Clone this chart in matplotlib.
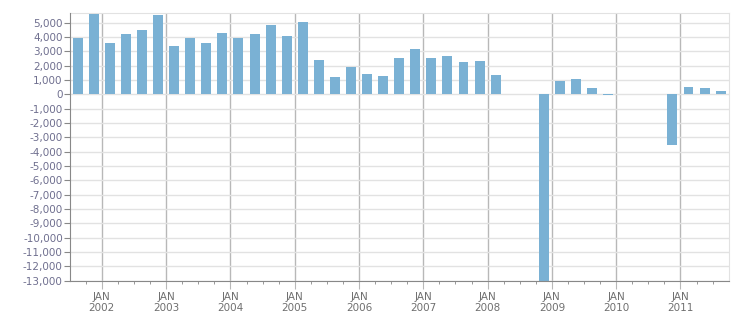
import numpy as np
import matplotlib.pyplot as plt

# quarterly values, Q3 2001 .. Q3 2011 (nan = no bar)
start_year = 2001.5
values = [3930, 5600,
          3560, 4210, 4490, 5530,
          3380, 3910, 3560, 4280,
          3910, 4210, 4840, 4070,
          5020, 2380, 1200, 1900,
          1410, 1270, 2520, 3150,
          2520, 2660, 2240, 2310,
          1340, np.nan, np.nan, -13000,
          930, 1060, 440, -50,
          np.nan, np.nan, np.nan, -3520,
          510, 440, 230]
years = list(range(2002, 2012))
y_ticks = list(range(-13000, 6000, 1000))

vals = np.array(values, dtype=float)
x = start_year + 0.25 * np.arange(len(vals)) + 0.125

fig = plt.figure(figsize=(7.51, 3.13), dpi=100)
ax = fig.add_axes([69.7 / 751, 1 - 280.5 / 313, (728.7 - 69.7) / 751, (280.5 - 13.3) / 313])

ax.bar(x, vals, width=0.155, color='#7ab1d4', zorder=3)

ax.set_xlim(2001.5, 2011.75)
ax.set_ylim(-13000, 5650)

ax.set_yticks(y_ticks)
ax.set_yticklabels([f"{v:,}" for v in y_ticks])
ax.set_xticks(years)
ax.set_xticklabels([f"JAN\n{y}" for y in years])
ax.set_xticks(np.arange(2001.75, 2011.75, 0.25), minor=True)

ax.grid(axis='y', color='#e2e2e2', linewidth=1, zorder=0)
ax.grid(axis='x', which='major', color='#b8b8b8', linewidth=1, zorder=1)

for s in ['top', 'right']:
    ax.spines[s].set_color('#e2e2e2')
for s in ['left', 'bottom']:
    ax.spines[s].set_color('#888888')
    ax.spines[s].set_zorder(4)

ax.tick_params(axis='y', length=4, color='#888888', labelsize=7.5,
               labelcolor='#6f6f8f', pad=1)
ax.tick_params(axis='x', which='major', length=6, color='#b8b8b8',
               labelsize=7.5, labelcolor='#6f6f6f', pad=2)
ax.tick_params(axis='x', which='minor', length=2.5, color='#888888')

fig.savefig('out.png', dpi=100)
